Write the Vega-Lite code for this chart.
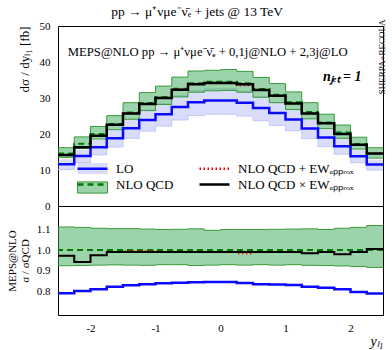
{
  "$schema": "https://vega.github.io/schema/vega-lite/v6.json",
  "padding": {"left": 5, "top": 5, "right": 5, "bottom": 5},
  "bounds": "flush",
  "spacing": 0,
  "title": {"text": "pp → μ⁺νμe⁻ν̄ₑ + jets @ 13 TeV", "font": "Liberation Serif", "fontSize": 13.5, "fontWeight": "normal", "anchor": "middle", "offset": 0, "color": "black"},
  "datasets": {
    "d": [
      {"x": -2.5, "lo": 11.6, "lo_up": 13.0, "lo_dn": 10.1, "nlo": 14.6, "nlo_up": 16.2, "nlo_dn": 13.5, "add": 14.2, "mult": 14.2, "r_lo": 0.794, "r_up": 1.110, "r_dn": 0.925, "r_add": 0.973, "r_mult": 0.973},
      {"x": -2.25, "lo": 13.9, "lo_up": 15.6, "lo_dn": 12.1, "nlo": 17.3, "nlo_up": 19.2, "nlo_dn": 16.0, "add": 16.3, "mult": 16.3, "r_lo": 0.805, "r_up": 1.108, "r_dn": 0.926, "r_add": 0.943, "r_mult": 0.943},
      {"x": -2.0, "lo": 16.3, "lo_up": 18.3, "lo_dn": 14.2, "nlo": 20.0, "nlo_up": 22.1, "nlo_dn": 18.6, "add": 19.5, "mult": 19.5, "r_lo": 0.813, "r_up": 1.104, "r_dn": 0.928, "r_add": 0.975, "r_mult": 0.975},
      {"x": -1.75, "lo": 18.8, "lo_up": 21.1, "lo_dn": 16.4, "nlo": 22.8, "nlo_up": 25.1, "nlo_dn": 21.2, "add": 22.6, "mult": 22.6, "r_lo": 0.825, "r_up": 1.102, "r_dn": 0.929, "r_add": 0.99, "r_mult": 0.99},
      {"x": -1.5, "lo": 21.6, "lo_up": 24.2, "lo_dn": 18.8, "nlo": 26.0, "nlo_up": 28.7, "nlo_dn": 24.1, "add": 25.9, "mult": 25.7, "r_lo": 0.832, "r_up": 1.102, "r_dn": 0.928, "r_add": 0.995, "r_mult": 0.99},
      {"x": -1.25, "lo": 23.9, "lo_up": 26.8, "lo_dn": 20.8, "nlo": 28.6, "nlo_up": 31.5, "nlo_dn": 26.5, "add": 28.5, "mult": 28.3, "r_lo": 0.837, "r_up": 1.100, "r_dn": 0.927, "r_add": 0.995, "r_mult": 0.99},
      {"x": -1.0, "lo": 25.5, "lo_up": 28.6, "lo_dn": 22.2, "nlo": 30.3, "nlo_up": 33.3, "nlo_dn": 28.2, "add": 30.1, "mult": 30.0, "r_lo": 0.841, "r_up": 1.098, "r_dn": 0.930, "r_add": 0.992, "r_mult": 0.99},
      {"x": -0.75, "lo": 27.5, "lo_up": 30.8, "lo_dn": 23.9, "nlo": 32.6, "nlo_up": 35.8, "nlo_dn": 30.3, "add": 32.4, "mult": 32.3, "r_lo": 0.844, "r_up": 1.099, "r_dn": 0.930, "r_add": 0.993, "r_mult": 0.99},
      {"x": -0.5, "lo": 28.8, "lo_up": 32.3, "lo_dn": 25.1, "nlo": 34.1, "nlo_up": 37.5, "nlo_dn": 31.6, "add": 33.9, "mult": 33.8, "r_lo": 0.846, "r_up": 1.101, "r_dn": 0.926, "r_add": 0.993, "r_mult": 0.99},
      {"x": -0.25, "lo": 29.3, "lo_up": 32.8, "lo_dn": 25.5, "nlo": 34.5, "nlo_up": 37.7, "nlo_dn": 32.0, "add": 34.2, "mult": 34.2, "r_lo": 0.848, "r_up": 1.094, "r_dn": 0.928, "r_add": 0.99, "r_mult": 0.99},
      {"x": 0.0, "lo": 29.3, "lo_up": 32.8, "lo_dn": 25.5, "nlo": 34.5, "nlo_up": 37.9, "nlo_dn": 32.1, "add": 34.2, "mult": 34.2, "r_lo": 0.848, "r_up": 1.098, "r_dn": 0.930, "r_add": 0.99, "r_mult": 0.99},
      {"x": 0.25, "lo": 28.7, "lo_up": 32.1, "lo_dn": 25.0, "nlo": 34.1, "nlo_up": 37.4, "nlo_dn": 31.6, "add": 33.5, "mult": 33.8, "r_lo": 0.843, "r_up": 1.098, "r_dn": 0.928, "r_add": 0.983, "r_mult": 0.99},
      {"x": 0.5, "lo": 27.2, "lo_up": 30.5, "lo_dn": 23.7, "nlo": 32.5, "nlo_up": 35.7, "nlo_dn": 30.2, "add": 32.2, "mult": 32.2, "r_lo": 0.837, "r_up": 1.098, "r_dn": 0.930, "r_add": 0.99, "r_mult": 0.99},
      {"x": 0.75, "lo": 25.8, "lo_up": 28.9, "lo_dn": 22.4, "nlo": 30.9, "nlo_up": 34.0, "nlo_dn": 28.7, "add": 30.6, "mult": 30.6, "r_lo": 0.835, "r_up": 1.099, "r_dn": 0.928, "r_add": 0.99, "r_mult": 0.99},
      {"x": 1.0, "lo": 24.0, "lo_up": 26.9, "lo_dn": 20.9, "nlo": 28.8, "nlo_up": 31.7, "nlo_dn": 26.8, "add": 28.5, "mult": 28.5, "r_lo": 0.833, "r_up": 1.100, "r_dn": 0.930, "r_add": 0.99, "r_mult": 0.99},
      {"x": 1.25, "lo": 21.5, "lo_up": 24.1, "lo_dn": 18.7, "nlo": 26.1, "nlo_up": 28.7, "nlo_dn": 24.2, "add": 25.7, "mult": 25.7, "r_lo": 0.825, "r_up": 1.101, "r_dn": 0.927, "r_add": 0.985, "r_mult": 0.985},
      {"x": 1.5, "lo": 19.0, "lo_up": 21.3, "lo_dn": 16.5, "nlo": 23.2, "nlo_up": 25.5, "nlo_dn": 21.5, "add": 23.0, "mult": 23.0, "r_lo": 0.82, "r_up": 1.098, "r_dn": 0.926, "r_add": 0.99, "r_mult": 0.99},
      {"x": 1.75, "lo": 16.6, "lo_up": 18.6, "lo_dn": 14.4, "nlo": 20.4, "nlo_up": 22.5, "nlo_dn": 18.8, "add": 20.0, "mult": 20.0, "r_lo": 0.813, "r_up": 1.104, "r_dn": 0.924, "r_add": 0.98, "r_mult": 0.98},
      {"x": 2.0, "lo": 13.8, "lo_up": 15.5, "lo_dn": 12.0, "nlo": 17.2, "nlo_up": 19.1, "nlo_dn": 15.8, "add": 17.0, "mult": 17.0, "r_lo": 0.80, "r_up": 1.108, "r_dn": 0.921, "r_add": 0.99, "r_mult": 0.99},
      {"x": 2.25, "lo": 11.5, "lo_up": 12.9, "lo_dn": 10.0, "nlo": 14.5, "nlo_up": 16.2, "nlo_dn": 13.3, "add": 14.6, "mult": 14.6, "r_lo": 0.792, "r_up": 1.117, "r_dn": 0.917, "r_add": 1.005, "r_mult": 1.005},
      {"x": 2.5, "lo": 11.5, "lo_up": 12.9, "lo_dn": 10.0, "nlo": 14.5, "nlo_up": 16.2, "nlo_dn": 13.3, "add": 14.6, "mult": 14.6, "r_lo": 0.792, "r_up": 1.117, "r_dn": 0.917, "r_add": 1.005, "r_mult": 1.005}
    ]
  },
  "resolve": {"scale": {"stroke": "shared", "fill": "shared"}},
  "vconcat": [
    {
      "width": 325,
      "height": 180,
      "data": {"name": "d"},
      "resolve": {"axis": {"x": "independent", "y": "independent"}},
      "layer": [
        {
          "mark": {"type": "area", "interpolate": "step-after"},
          "encoding": {
            "x": {"field": "x", "type": "quantitative", "scale": {"domain": [-2.5, 2.5], "nice": false, "zero": false},
              "axis": {"orient": "bottom", "labels": false, "title": null,
                "values": [-2.5,-2.4,-2.3,-2.2,-2.1,-2,-1.9,-1.8,-1.7,-1.6,-1.5,-1.4,-1.3,-1.2,-1.1,-1,-0.9,-0.8,-0.7,-0.6,-0.5,-0.4,-0.3,-0.2,-0.1,0,0.1,0.2,0.3,0.4,0.5,0.6,0.7,0.8,0.9,1,1.1,1.2,1.3,1.4,1.5,1.6,1.7,1.8,1.9,2,2.1,2.2,2.3,2.4,2.5],
                "encode": {"ticks": {"update": {"y2": {"signal": "abs(datum.value - round(datum.value)) < 0.001 ? -10 : -5"}}}}}},
            "y": {"field": "lo_up", "type": "quantitative", "scale": {"domain": [0, 50], "nice": false},
              "axis": {"orient": "left", "title": "dσ / dyₗ₁ [fb]", "titleAnchor": "end", "titlePadding": 8,
                "values": [0,2,4,6,8,10,12,14,16,18,20,22,24,26,28,30,32,34,36,38,40,42,44,46,48,50],
                "labelExpr": "datum.value % 10 === 0 ? datum.label : ''", "labelPadding": 8,
                "encode": {"ticks": {"update": {"x2": {"signal": "datum.value % 10 === 0 ? 10 : 5"}}}}}},
            "y2": {"field": "lo_dn"},
            "fill": {"datum": "LO", "type": "nominal",
              "scale": {"domain": ["LO", "NLO QCD"], "range": ["rgba(120,128,240,0.28)", "rgba(56,168,86,0.5)"]},
              "legend": {"orient": "none", "legendX": 28, "legendY": 136, "columns": 1, "title": null,
                "symbolType": "M-3.75,-1.4H3.75V1.4H-3.75Z", "symbolSize": 64, "symbolStrokeWidth": 1,
                "labelFont": "Liberation Serif", "labelFontSize": 13, "labelExpr": "''", "labelOffset": 17, "rowPadding": 2,
                "encode": {"symbols": {"update": {"stroke": {"signal": "datum.label === 'NLO QCD' ? '#3c9a3c' : 'transparent'"}}}}}}
          }
        },
        {
          "mark": {"type": "line", "interpolate": "step-after", "stroke": "#c3c7f6", "strokeWidth": 1},
          "encoding": {
            "x": {"field": "x", "type": "quantitative", "axis": null},
            "y": {"field": "lo_dn", "type": "quantitative", "axis": null}
          }
        },
        {
          "mark": {"type": "area", "interpolate": "step-after"},
          "encoding": {
            "x": {"field": "x", "type": "quantitative",
              "axis": {"orient": "top", "labels": false, "title": null,
                "values": [-2.5,-2.4,-2.3,-2.2,-2.1,-2,-1.9,-1.8,-1.7,-1.6,-1.5,-1.4,-1.3,-1.2,-1.1,-1,-0.9,-0.8,-0.7,-0.6,-0.5,-0.4,-0.3,-0.2,-0.1,0,0.1,0.2,0.3,0.4,0.5,0.6,0.7,0.8,0.9,1,1.1,1.2,1.3,1.4,1.5,1.6,1.7,1.8,1.9,2,2.1,2.2,2.3,2.4,2.5],
                "encode": {"ticks": {"update": {"y2": {"signal": "abs(datum.value - round(datum.value)) < 0.001 ? 10 : 5"}}}}}},
            "y": {"field": "nlo_up", "type": "quantitative",
              "axis": {"orient": "right", "labels": false, "title": "SHERPA+RECOLA", "titleAngle": -90, "titleAnchor": "end", "titleFontSize": 9, "titlePadding": 3, "titleY": -7,
                "values": [0,2,4,6,8,10,12,14,16,18,20,22,24,26,28,30,32,34,36,38,40,42,44,46,48,50],
                "encode": {"ticks": {"update": {"x2": {"signal": "datum.value % 10 === 0 ? -10 : -5"}}}}}},
            "y2": {"field": "nlo_dn"},
            "fill": {"datum": "NLO QCD", "type": "nominal"}
          }
        },
        {
          "mark": {"type": "line", "interpolate": "step-after", "stroke": "#3c9a3c", "strokeWidth": 1},
          "encoding": {
            "x": {"field": "x", "type": "quantitative", "axis": null},
            "y": {"field": "nlo_up", "type": "quantitative", "axis": null}
          }
        },
        {
          "mark": {"type": "line", "interpolate": "step-after", "stroke": "#3c9a3c", "strokeWidth": 1},
          "encoding": {
            "x": {"field": "x", "type": "quantitative", "axis": null},
            "y": {"field": "nlo_dn", "type": "quantitative", "axis": null}
          }
        },
        {
          "mark": {"type": "line", "interpolate": "step-after", "strokeWidth": 2.5},
          "encoding": {
            "x": {"field": "x", "type": "quantitative", "axis": null},
            "y": {"field": "lo", "type": "quantitative", "axis": null},
            "stroke": {"datum": "LO", "type": "nominal",
              "scale": {"domain": ["LO", "NLO QCD", "NLO QCD + EWₐₚₚᵣₒₓ", "NLO QCD × EWₐₚₚᵣₒₓ"], "range": ["#0a0aff", "#007a00", "#ff0000", "#000000"]},
              "legend": {"orient": "none", "legendX": 28, "legendY": 136, "columns": 2, "title": null,
                "symbolType": "M-3.75,0H3.75", "symbolSize": 64, "symbolStrokeWidth": 2.5,
                "labelFont": "Liberation Serif", "labelFontSize": 13, "labelColor": "black", "labelOffset": 17, "rowPadding": 2, "columnPadding": 20,
                "encode": {"symbols": {"update": {"strokeDash": {"signal": "datum.label === 'NLO QCD' ? [6,4] : (indexof(datum.label, '+') >= 0 ? [1.5,2.5] : [1,0])"}}}}}}
          }
        },
        {
          "mark": {"type": "line", "interpolate": "step-after", "strokeWidth": 2, "strokeDash": [6, 4]},
          "encoding": {
            "x": {"field": "x", "type": "quantitative", "axis": null},
            "y": {"field": "nlo", "type": "quantitative", "axis": null},
            "stroke": {"datum": "NLO QCD", "type": "nominal"}
          }
        },
        {
          "mark": {"type": "line", "interpolate": "step-after", "strokeWidth": 1.5, "strokeDash": [1.5, 2.5]},
          "encoding": {
            "x": {"field": "x", "type": "quantitative", "axis": null},
            "y": {"field": "add", "type": "quantitative", "axis": null},
            "stroke": {"datum": "NLO QCD + EWₐₚₚᵣₒₓ", "type": "nominal"}
          }
        },
        {
          "mark": {"type": "line", "interpolate": "step-after", "strokeWidth": 2.5},
          "encoding": {
            "x": {"field": "x", "type": "quantitative", "axis": null},
            "y": {"field": "mult", "type": "quantitative", "axis": null},
            "stroke": {"datum": "NLO QCD × EWₐₚₚᵣₒₓ", "type": "nominal"}
          }
        },
        {
          "data": {"values": [{"label": "MEPS@NLO pp → μ⁺νμe⁻ν̄ₑ + 0,1j@NLO + 2,3j@LO"}]},
          "mark": {"type": "text", "align": "left", "baseline": "alphabetic", "font": "Liberation Serif", "fontSize": 12.7, "color": "black"},
          "encoding": {
            "x": {"datum": -2.35, "type": "quantitative", "axis": null},
            "y": {"datum": 41.7, "type": "quantitative", "axis": null},
            "text": {"field": "label"}
          }
        },
        {
          "data": {"values": [{"label": "nⱼₑₜ = 1"}]},
          "mark": {"type": "text", "align": "right", "baseline": "alphabetic", "font": "Liberation Serif", "fontSize": 14, "fontWeight": "bold", "fontStyle": "italic", "color": "black"},
          "encoding": {
            "x": {"datum": 2.17, "type": "quantitative", "axis": null},
            "y": {"datum": 34.7, "type": "quantitative", "axis": null},
            "text": {"field": "label"}
          }
        }
      ]
    },
    {
      "width": 325,
      "height": 109,
      "data": {"name": "d"},
      "resolve": {"axis": {"x": "independent", "y": "independent"}},
      "layer": [
        {
          "mark": {"type": "area", "interpolate": "step-after"},
          "encoding": {
            "x": {"field": "x", "type": "quantitative", "scale": {"domain": [-2.5, 2.5], "nice": false, "zero": false},
              "axis": {"orient": "bottom", "title": "yₗ₁", "titleAnchor": "end", "titleFontStyle": "italic", "titleFontSize": 14, "titlePadding": 1,
                "values": [-2.5,-2.4,-2.3,-2.2,-2.1,-2,-1.9,-1.8,-1.7,-1.6,-1.5,-1.4,-1.3,-1.2,-1.1,-1,-0.9,-0.8,-0.7,-0.6,-0.5,-0.4,-0.3,-0.2,-0.1,0,0.1,0.2,0.3,0.4,0.5,0.6,0.7,0.8,0.9,1,1.1,1.2,1.3,1.4,1.5,1.6,1.7,1.8,1.9,2,2.1,2.2,2.3,2.4,2.5],
                "labelExpr": "abs(datum.value - round(datum.value)) < 0.001 ? '' + round(datum.value) : ''", "labelPadding": 7,
                "encode": {"ticks": {"update": {"y2": {"signal": "abs(datum.value - round(datum.value)) < 0.001 ? -10 : -5"}}}}}},
            "y": {"field": "r_up", "type": "quantitative", "scale": {"domain": [0.69, 1.21], "nice": false, "zero": false},
              "axis": {"orient": "left", "title": ["MEPS@NLO", "σ / σQCD"], "titleFontSize": 11, "titlePadding": 6,
                "values": [0.7,0.72,0.74,0.76,0.78,0.8,0.82,0.84,0.86,0.88,0.9,0.92,0.94,0.96,0.98,1,1.02,1.04,1.06,1.08,1.1,1.12,1.14,1.16,1.18,1.2],
                "labelExpr": "abs(datum.value*10 - round(datum.value*10)) < 0.001 && datum.value > 0.75 && datum.value < 1.15 ? format(datum.value, '.1f') : ''", "labelPadding": 8,
                "encode": {"ticks": {"update": {"x2": {"signal": "abs(datum.value*10 - round(datum.value*10)) < 0.001 ? 10 : 5"}}}}}},
            "y2": {"field": "r_dn"},
            "fill": {"datum": "NLO QCD", "type": "nominal"}
          }
        },
        {
          "mark": {"type": "line", "interpolate": "step-after", "stroke": "#3c9a3c", "strokeWidth": 1},
          "encoding": {
            "x": {"field": "x", "type": "quantitative",
              "axis": {"orient": "top", "labels": false, "title": null,
                "values": [-2.5,-2.4,-2.3,-2.2,-2.1,-2,-1.9,-1.8,-1.7,-1.6,-1.5,-1.4,-1.3,-1.2,-1.1,-1,-0.9,-0.8,-0.7,-0.6,-0.5,-0.4,-0.3,-0.2,-0.1,0,0.1,0.2,0.3,0.4,0.5,0.6,0.7,0.8,0.9,1,1.1,1.2,1.3,1.4,1.5,1.6,1.7,1.8,1.9,2,2.1,2.2,2.3,2.4,2.5],
                "encode": {"ticks": {"update": {"y2": {"signal": "abs(datum.value - round(datum.value)) < 0.001 ? 10 : 5"}}}}}},
            "y": {"field": "r_up", "type": "quantitative",
              "axis": {"orient": "right", "labels": false, "title": null,
                "values": [0.7,0.72,0.74,0.76,0.78,0.8,0.82,0.84,0.86,0.88,0.9,0.92,0.94,0.96,0.98,1,1.02,1.04,1.06,1.08,1.1,1.12,1.14,1.16,1.18,1.2],
                "encode": {"ticks": {"update": {"x2": {"signal": "abs(datum.value*10 - round(datum.value*10)) < 0.001 ? -10 : -5"}}}}}}
          }
        },
        {
          "mark": {"type": "line", "interpolate": "step-after", "stroke": "#3c9a3c", "strokeWidth": 1},
          "encoding": {
            "x": {"field": "x", "type": "quantitative", "axis": null},
            "y": {"field": "r_dn", "type": "quantitative", "axis": null}
          }
        },
        {
          "mark": {"type": "line", "interpolate": "step-after", "strokeWidth": 2.5},
          "encoding": {
            "x": {"field": "x", "type": "quantitative", "axis": null},
            "y": {"field": "r_lo", "type": "quantitative", "axis": null},
            "stroke": {"datum": "LO", "type": "nominal"}
          }
        },
        {
          "mark": {"type": "rule", "strokeWidth": 2, "strokeDash": [6, 4]},
          "encoding": {
            "y": {"datum": 1, "type": "quantitative", "axis": null},
            "stroke": {"datum": "NLO QCD", "type": "nominal"}
          }
        },
        {
          "mark": {"type": "line", "interpolate": "step-after", "strokeWidth": 1.5, "strokeDash": [1.5, 2.5]},
          "encoding": {
            "x": {"field": "x", "type": "quantitative", "axis": null},
            "y": {"field": "r_add", "type": "quantitative", "axis": null},
            "stroke": {"datum": "NLO QCD + EWₐₚₚᵣₒₓ", "type": "nominal"}
          }
        },
        {
          "mark": {"type": "line", "interpolate": "step-after", "strokeWidth": 2},
          "encoding": {
            "x": {"field": "x", "type": "quantitative", "axis": null},
            "y": {"field": "r_mult", "type": "quantitative", "axis": null},
            "stroke": {"datum": "NLO QCD × EWₐₚₚᵣₒₓ", "type": "nominal"}
          }
        }
      ]
    }
  ],
  "config": {
    "view": {"stroke": "black", "strokeWidth": 1},
    "axis": {"labelFont": "Liberation Serif", "labelFontSize": 11, "labelColor": "black", "titleFont": "Liberation Serif", "titleFontWeight": "normal", "titleColor": "black", "titleFontSize": 13, "tickColor": "#444", "tickWidth": 1, "tickSize": 0, "domain": false, "grid": false}
  }
}
